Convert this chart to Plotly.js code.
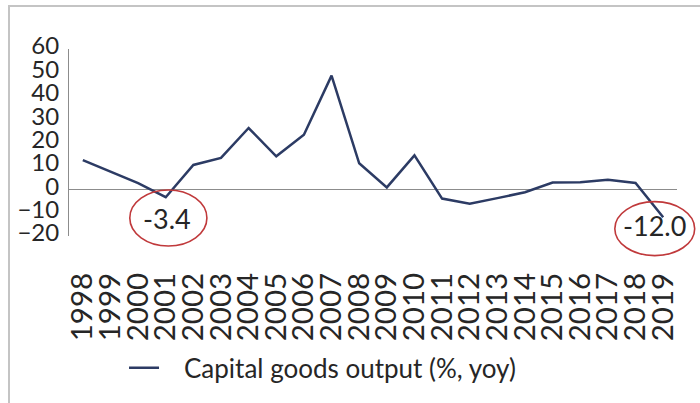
<!DOCTYPE html>
<html>
<head>
<meta charset="utf-8">
<script src="https://cdn.plot.ly/plotly-3.0.1.min.js"></script>
<style>
  html, body { margin: 0; padding: 0; background: #fff; }
  #wrap { position: relative; width: 700px; height: 403px; overflow: hidden; }
  #chart { width: 700px; height: 403px; }
  #frame { position: absolute; left: 8px; top: 5px; width: 700px; height: 420px;
           border-top: 2px solid #c4c4c4; border-left: 2px solid #c4c4c4; pointer-events: none; }
</style>
</head>
<body>
<div id="wrap">
  <div id="chart"></div>
  <div id="frame"></div>
</div>
<script>
// ---- data ----
const years = ['1998','1999','2000','2001','2002','2003','2004','2005','2006','2007','2008',
               '2009','2010','2011','2012','2013','2014','2015','2016','2017','2018','2019'];
const capitalGoodsOutput = [12.5, 7.5, 2.6, -3.4, 10.4, 13.4, 26.2, 14.1, 23.3, 48.6, 11.1,
                            0.8, 14.5, -4.0, -6.2, -3.8, -1.3, 2.9, 3.0, 4.1, 2.7, -12.0];
const seriesName = 'Capital goods output (%, yoy)';
const highlightYears = ['2001', '2019'];
const highlightLabels = ['-3.4', '-12.0'];

// ---- styling ----
const FONT = 'Lato, "Open Sans", sans-serif';
const TXT = '#262626';
const NAVY = '#2c3b64';
const RED = '#c0393b';
const yMin = -20, yMax = 60;
const nCat = years.length;
const px = i => (i + 0.5) / nCat;            // category index -> paper x
const py = v => (v - yMin) / (yMax - yMin);  // value -> paper y

// annotation offsets (style only)
const annotStyle = [
  {dx: 0.05, ty: -12.7, ex0: -1.30, ex1: 1.49, ey0: -0.3, ey1: -24.3},
  {dx: -0.3, ty: -15.6, ex0: -1.75, ex1: 1.14, ey0: -5.3, ey1: -28.4}
];

const annotations = [];
const shapes = [];
highlightYears.forEach((yr, k) => {
  const idx = years.indexOf(yr);
  const s = annotStyle[k];
  annotations.push({
    x: px(idx + s.dx), y: py(s.ty), xref: 'paper', yref: 'paper',
    xanchor: 'center', yanchor: 'middle',
    text: highlightLabels[k], showarrow: false,
    font: {family: FONT, size: 27, color: TXT}
  });
  shapes.push({
    type: 'circle', xref: 'paper', yref: 'paper',
    x0: px(idx + s.ex0), x1: px(idx + s.ex1), y0: py(s.ey1), y1: py(s.ey0),
    line: {color: RED, width: 1.6}, fillcolor: 'rgba(0,0,0,0)', layer: 'above'
  });
});

const trace = {
  x: years, y: capitalGoodsOutput, type: 'scatter', mode: 'lines',
  name: '\u00a0\u00a0\u00a0' + seriesName,
  line: {color: NAVY, width: 2.5}, cliponaxis: false
};

const layout = {
  width: 700, height: 403,
  margin: {l: 69, r: 23, t: 49, b: 160, pad: 0},
  paper_bgcolor: '#ffffff', plot_bgcolor: '#ffffff',
  font: {family: FONT, color: TXT},
  showlegend: true,
  legend: {
    orientation: 'h', x: 0.0905, y: -0.705, xanchor: 'left', yanchor: 'middle',
    itemwidth: 30,
    font: {family: FONT, size: 26, color: TXT}, bgcolor: 'rgba(0,0,0,0)'
  },
  xaxis: {
    type: 'category', range: [-0.5, nCat - 0.5], tickangle: -90,
    tickmode: 'linear', tick0: 0, dtick: 1,
    tickfont: {family: FONT, size: 29.5, color: TXT},
    ticks: 'outside', ticklen: 24, tickcolor: 'rgba(0,0,0,0)',
    showline: false, showgrid: false, zeroline: false, fixedrange: true
  },
  yaxis: {
    range: [yMin, yMax], dtick: 10, tick0: 0,
    tickfont: {family: FONT, size: 24, color: TXT},
    ticks: 'outside', ticklen: 4, tickcolor: 'rgba(0,0,0,0)',
    ticklabelshift: -3,
    showline: true, linecolor: '#8c8c8c', linewidth: 1,
    zeroline: true, zerolinecolor: '#8c8c8c', zerolinewidth: 1,
    showgrid: false, fixedrange: true
  },
  annotations: annotations,
  shapes: shapes
};

Plotly.newPlot('chart', [trace], layout, {displayModeBar: false, staticPlot: true});
</script>
</body>
</html>
